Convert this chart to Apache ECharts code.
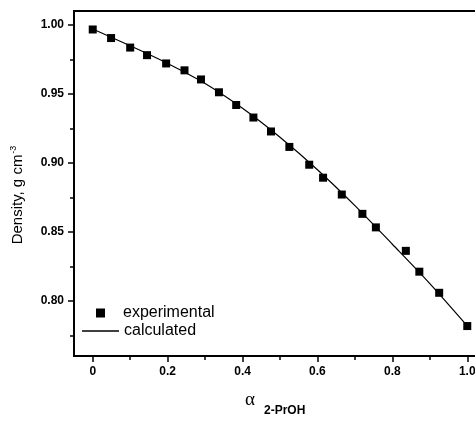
<!DOCTYPE html>
<html>
<head>
<meta charset="utf-8">
<script src="https://cdn.jsdelivr.net/npm/echarts@6/dist/echarts.min.js"></script>
<style>
  html, body { margin: 0; padding: 0; background: #fff; }
  #chart { width: 475px; height: 424px; }
</style>
</head>
<body>
<div id="chart"></div>
<script>
// experimental points (mole fraction of 2-PrOH vs density)
const expX = [0, 0.049, 0.1, 0.145, 0.196, 0.245, 0.289, 0.337, 0.383, 0.429, 0.476,
  0.525, 0.578, 0.615, 0.665, 0.720, 0.756, 0.836, 0.872, 0.925, 1.0];
const expY = [0.9966, 0.9904, 0.9835, 0.978, 0.972, 0.967, 0.9604, 0.9511, 0.9419, 0.9328, 0.9227,
  0.9115, 0.8986, 0.8892, 0.877, 0.863, 0.8532, 0.8362, 0.8211, 0.8058, 0.7817];
// calculated curve
const calcX = [0, 0.1, 0.2, 0.3, 0.4, 0.5, 0.6, 0.7, 0.8, 0.9, 1.0];
const calcY = [0.997, 0.9848, 0.9720, 0.9575, 0.9395, 0.9185, 0.8950, 0.8690, 0.8410, 0.8125, 0.7818];

const xMajor = [0, 0.2, 0.4, 0.6, 0.8, 1.0];
const xMinor = [0.1, 0.3, 0.5, 0.7, 0.9];
const yMajor = [0.80, 0.85, 0.90, 0.95, 1.00];
const yMinor = [0.775, 0.825, 0.875, 0.925, 0.975];

const chart = echarts.init(document.getElementById('chart'));

const labelFont = { color: '#000', fontFamily: 'Arial', fontWeight: 'bold', fontSize: 12 };

chart.setOption({
  animation: false,
  grid: {
    left: 74, top: 11, width: 412, height: 345, outerBoundsMode: 'none',
    show: true, borderColor: '#000', borderWidth: 2
  },
  legend: [
    {
      data: ['experimental'], left: 96, top: 305, padding: 0,
      itemWidth: 9, itemHeight: 9,
      textStyle: { fontFamily: 'Arial', fontSize: 16, color: '#000', padding: [0, 0, 0, 13] }
    },
    {
      data: [{ name: 'calculated', icon: 'rect' }], left: 82, top: 323, padding: 0,
      itemWidth: 37, itemHeight: 1.3,
      textStyle: { fontFamily: 'Arial', fontSize: 16, color: '#000' }
    }
  ],
  xAxis: [
    {
      type: 'value', min: -0.05, max: 1.05,
      axisLine: { onZero: false, lineStyle: { color: '#000', width: 2 } },
      axisTick: { customValues: xMajor, length: 6, lineStyle: { color: '#000', width: 1.5 } },
      axisLabel: Object.assign({
        customValues: xMajor, margin: 10,
        formatter: v => (v === 0 ? '0' : v.toFixed(1))
      }, labelFont),
      splitLine: { show: false }
    },
    {
      type: 'value', min: -0.05, max: 1.05, position: 'bottom',
      axisLine: { show: false, onZero: false },
      axisTick: { customValues: xMinor, length: 4, lineStyle: { color: '#000', width: 1.5 } },
      axisLabel: { show: false },
      splitLine: { show: false }
    }
  ],
  yAxis: [
    {
      type: 'value', min: 0.76, max: 1.01,
      axisLine: { show: true, onZero: false, lineStyle: { color: '#000', width: 2 } },
      axisTick: { show: true, customValues: yMajor, length: 6, lineStyle: { color: '#000', width: 1.5 } },
      axisLabel: Object.assign({
        customValues: yMajor, margin: 10,
        formatter: v => v.toFixed(2)
      }, labelFont),
      splitLine: { show: false }
    },
    {
      type: 'value', min: 0.76, max: 1.01, position: 'left',
      axisLine: { show: false, onZero: false },
      axisTick: { show: true, customValues: yMinor, length: 4, lineStyle: { color: '#000', width: 1.5 } },
      axisLabel: { show: false },
      splitLine: { show: false }
    }
  ],
  graphic: [
    {
      type: 'text', x: 18, y: 195, rotation: Math.PI / 2,
      style: {
        text: '{a|Density, g cm}{s|-3}',
        align: 'center', verticalAlign: 'middle',
        rich: {
          a: { fontFamily: 'Arial', fontSize: 15, fill: '#000', lineHeight: 18 },
          s: { fontFamily: 'Arial', fontSize: 9, fill: '#000', lineHeight: 18, padding: [0, 0, 9, 1] }
        }
      }
    },
    {
      type: 'text', x: 250, y: 400,
      style: { text: 'α', fontFamily: 'Liberation Serif, DejaVu Serif, serif', fontSize: 19, fill: '#000', align: 'center', verticalAlign: 'middle' }
    },
    {
      type: 'text', x: 264, y: 411,
      style: { text: '2-PrOH', fontFamily: 'Arial', fontWeight: 'bold', fontSize: 12, fill: '#000', align: 'left', verticalAlign: 'middle' }
    }
  ],
  series: [
    {
      name: 'calculated', type: 'line', smooth: 0.3, symbol: 'none',
      color: '#000', lineStyle: { color: '#000', width: 1.2 },
      data: calcX.map((x, i) => [x, calcY[i]]), z: 2
    },
    {
      name: 'experimental', type: 'scatter', symbol: 'rect', symbolSize: 8,
      itemStyle: { color: '#000', opacity: 1 },
      data: expX.map((x, i) => [x, expY[i]]), z: 3
    }
  ]
});
</script>
</body>
</html>
